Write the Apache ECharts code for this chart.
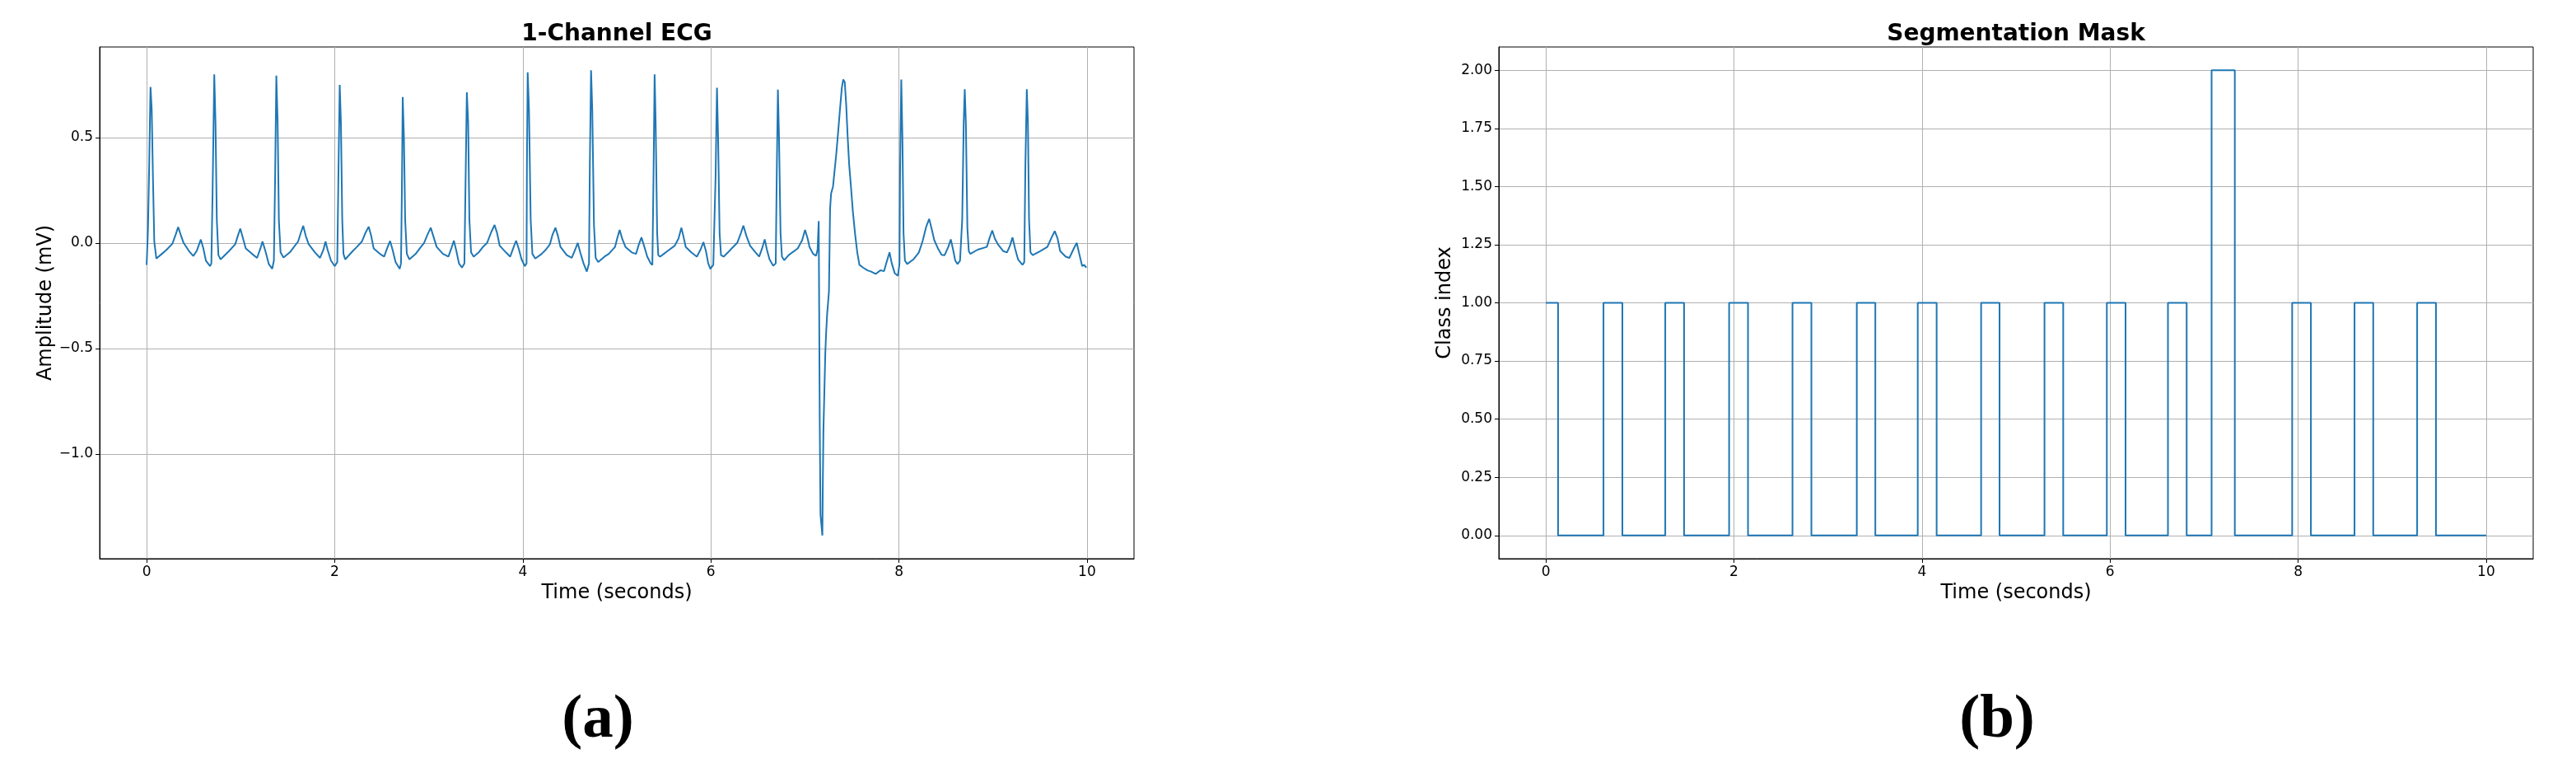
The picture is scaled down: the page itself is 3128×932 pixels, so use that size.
<!DOCTYPE html>
<html>
<head>
<meta charset="utf-8">
<script src="https://cdn.jsdelivr.net/npm/echarts@6/dist/echarts.min.js"></script>
<style>
html,body{margin:0;padding:0;background:#fff;}
#chart{width:3128px;height:932px;}
</style>
</head>
<body>
<div id="chart"></div>
<script>
// ---- Data ----
const ecgTime = [
0.000,0.014,0.027,0.041,0.054,0.067,0.081,0.103,0.161,0.206,0.273,0.308,0.335,0.362,0.393,0.451,0.496,0.531,0.576,0.603,0.630,0.674,0.688,
0.701,0.719,0.732,0.746,0.763,0.786,0.875,0.942,0.969,0.996,1.022,1.054,1.121,1.174,1.210,1.232,1.263,1.299,1.335,1.353,
1.366,1.379,1.393,1.406,1.424,1.455,1.522,1.567,1.611,1.638,1.665,1.692,1.723,1.790,1.844,1.880,1.902,1.924,1.960,2.000,2.027,
2.039,2.053,2.066,2.080,2.093,2.111,2.191,2.236,2.289,2.325,2.361,2.388,2.414,2.481,2.526,2.557,2.589,2.615,2.647,2.691,2.705,
2.714,2.723,2.736,2.749,2.767,2.794,2.861,2.905,2.950,2.986,3.021,3.048,3.084,3.151,3.209,3.240,3.267,3.294,3.321,3.353,3.379,
3.392,3.405,3.419,3.432,3.450,3.477,3.531,3.576,3.620,3.665,3.700,3.727,3.754,3.821,3.866,3.898,3.929,3.956,3.987,4.022,4.040,
4.044,4.052,4.066,4.084,4.102,4.133,4.200,4.245,4.289,4.316,4.347,4.374,4.401,4.468,4.521,4.557,4.584,4.611,4.646,4.681,4.704,
4.713,4.726,4.739,4.757,4.775,4.802,4.869,4.914,4.981,5.003,5.030,5.057,5.092,5.159,5.204,5.235,5.262,5.289,5.324,5.360,5.378,
5.390,5.402,5.413,5.429,5.441,5.460,5.499,5.538,5.616,5.655,5.687,5.714,5.733,5.792,5.851,5.890,5.921,5.948,5.972,5.995,6.026,
6.050,6.065,6.077,6.093,6.108,6.136,6.182,6.221,6.280,6.319,6.346,6.378,6.417,6.475,6.514,6.545,6.573,6.596,6.624,6.663,6.690,
6.702,6.713,6.725,6.741,6.756,6.780,6.827,6.866,6.924,6.971,7.002,7.030,7.049,7.088,7.119,7.135,
7.147,7.152,7.158,7.166,7.186,7.190,7.197,7.209,7.217,7.225,7.236,7.256,7.268,7.279,7.299,7.315,7.334,7.354,7.373,7.393,7.408,7.424,7.439,7.455,7.471,7.490,7.510,7.533,7.557,7.580,7.619,7.666,7.705,7.752,7.803,7.842,7.869,7.900,7.924,7.955,7.990,8.006,
8.013,8.025,8.037,8.049,8.064,8.088,8.154,8.212,8.251,8.291,8.322,8.349,8.376,8.415,8.454,8.486,8.525,8.552,8.576,8.599,8.623,8.650,
8.673,8.689,8.700,8.712,8.728,8.743,8.759,8.837,8.935,8.966,8.993,9.021,9.052,9.110,9.149,9.181,9.208,9.235,9.267,9.314,9.333,
9.345,9.360,9.372,9.384,9.399,9.423,9.501,9.579,9.618,9.657,9.688,9.715,9.774,9.813,9.860,9.891,9.918,9.949,9.969,9.993
];
const ecgValue = [
-0.103,0.066,0.37,0.74,0.63,0.31,0.008,-0.073,-0.051,-0.034,-0.003,0.04,0.076,0.04,0.001,-0.038,-0.061,-0.038,0.017,-0.025,-0.083,-0.109,-0.096,
0.24,0.80,0.57,0.11,-0.057,-0.077,-0.038,-0.005,0.034,0.069,0.027,-0.025,-0.051,-0.07,-0.025,0.008,-0.038,-0.099,-0.122,-0.083,
0.31,0.794,0.57,0.11,-0.044,-0.068,-0.044,-0.018,0.008,0.047,0.082,0.034,-0.005,-0.044,-0.07,-0.031,0.008,-0.031,-0.083,-0.109,-0.09,
0.31,0.75,0.57,0.11,-0.051,-0.077,-0.038,-0.018,0.008,0.047,0.078,0.034,-0.025,-0.051,-0.064,-0.025,0.01,-0.031,-0.09,-0.122,-0.096,
0.24,0.693,0.50,0.11,-0.051,-0.077,-0.051,-0.025,0.001,0.04,0.073,0.034,-0.018,-0.051,-0.064,-0.025,0.012,-0.038,-0.096,-0.116,-0.096,
0.31,0.715,0.57,0.11,-0.044,-0.064,-0.044,-0.018,0.001,0.053,0.086,0.047,-0.012,-0.044,-0.064,-0.025,0.012,-0.025,-0.077,-0.109,-0.096,
0.37,0.81,0.63,0.11,-0.051,-0.073,-0.051,-0.031,-0.005,0.04,0.073,0.034,-0.018,-0.057,-0.07,-0.031,0.001,-0.044,-0.096,-0.135,-0.096,
0.37,0.82,0.63,0.086,-0.07,-0.09,-0.064,-0.051,-0.018,0.021,0.063,0.021,-0.018,-0.044,-0.051,-0.005,0.027,-0.012,-0.064,-0.096,-0.103,
0.31,0.80,0.57,0.047,-0.057,-0.064,-0.051,-0.038,-0.012,0.021,0.073,0.021,-0.018,-0.044,-0.064,-0.031,0.005,-0.038,-0.096,-0.122,-0.103,
0.31,0.737,0.50,0.047,-0.057,-0.064,-0.044,-0.025,0.001,0.047,0.083,0.034,-0.012,-0.044,-0.064,-0.025,0.018,-0.031,-0.077,-0.107,-0.096,
0.37,0.728,0.50,0.047,-0.064,-0.081,-0.057,-0.044,-0.025,0.014,0.063,0.021,-0.018,-0.051,-0.06,-0.031,
0.105,-0.318,-0.852,-1.288,-1.386,-1.177,-0.89,-0.67,-0.523,-0.435,-0.341,-0.229,0.164,0.236,0.268,0.34,0.424,0.529,0.633,0.737,0.776,0.763,0.659,0.503,0.372,0.268,0.151,0.047,-0.044,-0.103,-0.116,-0.129,-0.135,-0.146,-0.129,-0.133,-0.09,-0.044,-0.096,-0.142,-0.155,-0.096,
0.37,0.776,0.503,0.047,-0.083,-0.099,-0.077,-0.044,0.008,0.079,0.115,0.066,0.014,-0.025,-0.055,-0.057,-0.018,0.018,-0.031,-0.083,-0.099,-0.083,
0.11,0.57,0.73,0.57,0.073,-0.038,-0.051,-0.031,-0.018,0.027,0.06,0.021,-0.005,-0.038,-0.044,-0.012,0.027,-0.025,-0.077,-0.103,-0.09,
0.37,0.73,0.57,0.11,-0.044,-0.057,-0.038,-0.018,0.021,0.057,0.021,-0.038,-0.064,-0.07,-0.025,0.001,-0.051,-0.109,-0.103,-0.116
];
const maskTime = [0, 0.13, 0.613, 0.814, 1.270, 1.470, 1.949, 2.150, 2.623, 2.824, 3.307, 3.504, 3.955, 4.156, 4.629, 4.825, 5.303, 5.502, 5.966, 6.165, 6.616, 6.815, 7.080, 7.327, 7.937, 8.136, 8.600, 8.799, 9.266, 9.466, 10.0];
const maskClass = [1, 0, 1, 0, 1, 0, 1, 0, 1, 0, 1, 0, 1, 0, 1, 0, 1, 0, 1, 0, 1, 0, 2, 0, 1, 0, 1, 0, 1, 0, 0];
const timeTicks = [0, 2, 4, 6, 8, 10];
const ecgTicks = [-1.0, -0.5, 0.0, 0.5];
const maskTicks = [0, 0.25, 0.5, 0.75, 1.0, 1.25, 1.5, 1.75, 2.0];

// ---- Chart ----
const FONT = 'DejaVu Sans';
const BLUE = '#1f77b4';
const ecgData = ecgTime.map((t, i) => [t, ecgValue[i]]);
const maskData = maskTime.map((t, i) => [t, maskClass[i]]);

function xAxisCfg(gridIndex) {
  return {
    type: 'value', gridIndex: gridIndex, min: -0.5, max: 10.5,
    name: 'Time (seconds)', nameLocation: 'middle', nameGap: 24,
    nameTextStyle: { fontFamily: FONT, fontSize: 24, color: '#000' },
    axisLine: { show: true, onZero: false, lineStyle: { color: '#000', width: 1 } },
    axisTick: { show: true, inside: false, length: 5, customValues: timeTicks, lineStyle: { color: '#000', width: 1 } },
    axisLabel: { customValues: timeTicks, margin: 8, fontFamily: FONT, fontSize: 17, color: '#000',
      formatter: v => String(Math.round(v)) },
    splitLine: { show: true, lineStyle: { color: '#b0b0b0', width: 1 } }
  };
}
function yAxisCfg(gridIndex, min, max, ticks, name, gap, digits) {
  return {
    type: 'value', gridIndex: gridIndex, min: min, max: max,
    name: name, nameLocation: 'middle', nameGap: gap,
    nameTextStyle: { fontFamily: FONT, fontSize: 24, color: '#000' },
    axisLine: { show: true, onZero: false, lineStyle: { color: '#000', width: 1 } },
    axisTick: { show: true, inside: false, length: 5, customValues: ticks, lineStyle: { color: '#000', width: 1 } },
    axisLabel: { customValues: ticks, margin: 8, fontFamily: FONT, fontSize: 17, color: '#000',
      formatter: v => v.toFixed(digits).replace('-', '\u2212') },
    splitLine: { show: true, lineStyle: { color: '#b0b0b0', width: 1 } }
  };
}

const chart = echarts.init(document.getElementById('chart'), null, { renderer: 'canvas' });
chart.setOption({
  animation: false,
  backgroundColor: '#fff',
  title: [
    { text: '1-Channel ECG', left: 749, top: 28, textAlign: 'center', padding: 0,
      textStyle: { fontFamily: FONT, fontWeight: 'bold', fontSize: 28, color: '#000' } },
    { text: 'Segmentation Mask', left: 2448, top: 28, textAlign: 'center', padding: 0,
      textStyle: { fontFamily: FONT, fontWeight: 'bold', fontSize: 28, color: '#000' } },
    { text: '{p|(}{b|a}{p|)}', left: 726, top: 835, textAlign: 'center', padding: 0,
      textStyle: { rich: {
        p: { fontFamily: 'Liberation Serif', fontSize: 75, color: '#000', lineHeight: 80 },
        b: { fontFamily: 'Liberation Serif', fontSize: 75, fontWeight: 'bold', color: '#000', lineHeight: 80 } } } },
    { text: '{p|(}{b|b}{p|)}', left: 2425, top: 835, textAlign: 'center', padding: 0,
      textStyle: { rich: {
        p: { fontFamily: 'Liberation Serif', fontSize: 75, color: '#000', lineHeight: 80 },
        b: { fontFamily: 'Liberation Serif', fontSize: 75, fontWeight: 'bold', color: '#000', lineHeight: 80 } } } }
  ],
  grid: [
    { left: 121, top: 57, width: 1256, height: 621, show: true, borderColor: '#000', borderWidth: 1, backgroundColor: 'transparent' },
    { left: 1820, top: 57, width: 1256, height: 621, show: true, borderColor: '#000', borderWidth: 1, backgroundColor: 'transparent' }
  ],
  xAxis: [ xAxisCfg(0), xAxisCfg(1) ],
  yAxis: [
    yAxisCfg(0, -1.496, 0.93, ecgTicks, 'Amplitude (mV)', 53, 1),
    yAxisCfg(1, -0.1, 2.1, maskTicks, 'Class index', 53, 2)
  ],
  series: [
    { type: 'line', xAxisIndex: 0, yAxisIndex: 0, data: ecgData, showSymbol: false, symbol: 'none',
      lineStyle: { color: BLUE, width: 2 }, z: 3 },
    { type: 'line', xAxisIndex: 1, yAxisIndex: 1, data: maskData, step: 'end', showSymbol: false, symbol: 'none',
      lineStyle: { color: BLUE, width: 2 }, z: 3 }
  ]
});
</script>
</body>
</html>
